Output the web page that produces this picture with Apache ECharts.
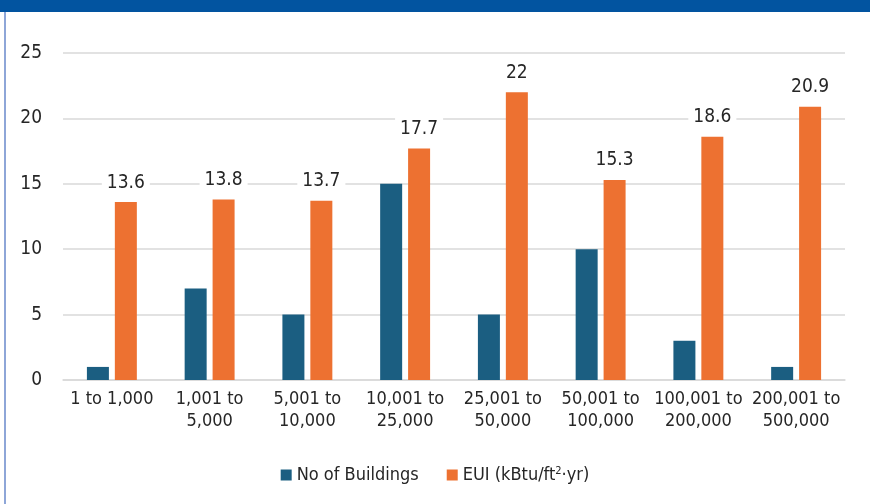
<!DOCTYPE html>
<html>
<head>
<meta charset="utf-8">
<style>
  html, body { margin: 0; padding: 0; background: #ffffff; }
  #chart { width: 870px; height: 504px; }
</style>
<script src="https://cdn.jsdelivr.net/npm/echarts@6/dist/echarts.min.js"></script>
</head>
<body>
<div id="chart"></div>
<script>
// Building size bands (ft²)
const categories = [
  '1 to 1,000', '1,001 to\n5,000', '5,001 to\n10,000', '10,001 to\n25,000',
  '25,001 to\n50,000', '50,001 to\n100,000', '100,001 to\n200,000', '200,001 to\n500,000'
];
const buildingCounts = [1, 7, 5, 15, 5, 10, 3, 1];
const euiValues = [13.6, 13.8, 13.7, 17.7, 22, 15.3, 18.6, 20.9];
const yTicks = { min: 0, max: 25, interval: 5 };

const FONT = '"Liberation Sans Narrow", "DejaVu Sans Condensed", sans-serif';
const TEXT = '#262626';

const chart = echarts.init(document.getElementById('chart'), null, { renderer: 'canvas' });

chart.setOption({
  animation: false,
  backgroundColor: '#ffffff',
  textStyle: { fontFamily: FONT },
  graphic: [
    { type: 'rect', shape: { x: 0, y: 0, width: 870, height: 12 }, style: { fill: '#0254a0' }, silent: true },
    { type: 'rect', shape: { x: 4, y: 12, width: 2, height: 492 }, style: { fill: '#8ea6d8' }, silent: true }
  ],
  grid: { left: 63, right: 25, top: 53, bottom: 124, containLabel: false },
  legend: {
    bottom: 15,
    left: 'center',
    itemWidth: 11,
    itemHeight: 11,
    itemGap: 28,
    icon: 'rect',
    textStyle: {
      fontFamily: FONT, fontSize: 18, color: TEXT,
      rich: {
        sup: { fontFamily: FONT, fontSize: 11, color: TEXT, verticalAlign: 'top', padding: [0, 0, 8, 0] },
        t: { fontFamily: FONT, fontSize: 18, color: TEXT }
      }
    },
    data: ['No of Buildings', 'EUI'],
    formatter: function (name) {
      return name === 'EUI' ? '{t|EUI (kBtu/ft}{sup|2}{t|·yr)}' : name;
    }
  },
  xAxis: {
    type: 'category',
    data: categories,
    axisLine: { lineStyle: { color: '#d9d9d9', width: 1.5 } },
    axisTick: { show: false },
    axisLabel: {
      fontFamily: FONT, fontSize: 18, color: TEXT, lineHeight: 22, margin: 8, interval: 0
    }
  },
  yAxis: {
    type: 'value',
    min: yTicks.min,
    max: yTicks.max,
    interval: yTicks.interval,
    axisLine: { show: false },
    axisTick: { show: false },
    splitLine: { lineStyle: { color: '#d9d9d9', width: 1.5 } },
    axisLabel: { fontFamily: FONT, fontSize: 19, color: TEXT, margin: 21 }
  },
  series: [
    {
      name: 'No of Buildings',
      type: 'bar',
      data: buildingCounts,
      barWidth: 22,
      barGap: '27%',
      itemStyle: { color: '#1b5e81' }
    },
    {
      name: 'EUI',
      type: 'bar',
      data: euiValues,
      barWidth: 22,
      itemStyle: { color: '#ed7131' },
      label: {
        show: true,
        position: 'top',
        distance: 8,
        fontFamily: FONT,
        fontSize: 19,
        color: TEXT,
        backgroundColor: '#ffffff',
        padding: [2, 5]
      }
    }
  ]
});
</script>
</body>
</html>
